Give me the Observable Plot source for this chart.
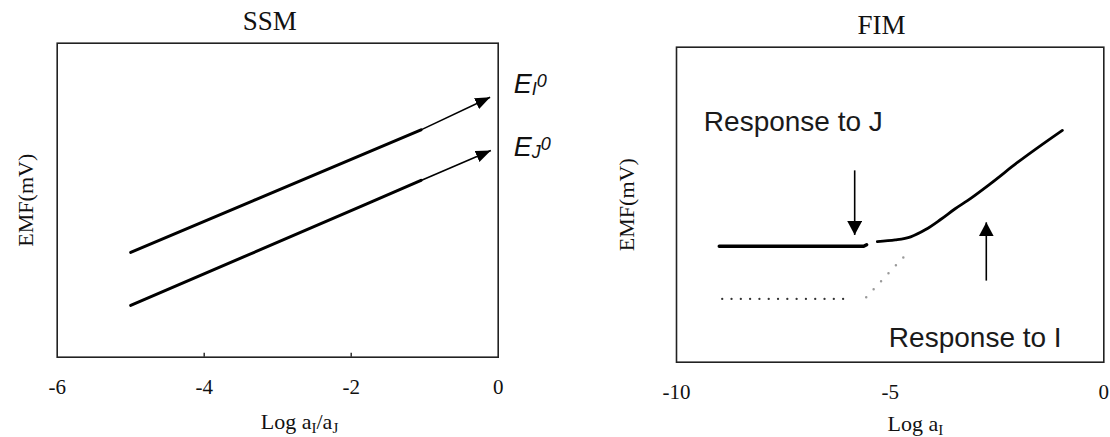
<!DOCTYPE html>
<html><head><meta charset="utf-8">
<script src="https://cdn.jsdelivr.net/npm/d3@7"></script>
<script src="https://cdn.jsdelivr.net/npm/@observablehq/plot@0.6"></script>
<style>
html,body{margin:0;padding:0;background:#fff;}
#wrap{display:flex;width:1110px;height:437px;}
#wrap svg{flex:none;display:block;}
</style></head><body><div id="wrap"></div>
<script>
// ---------- SSM panel data ----------
const ssmTicks = [-6, -4, -2, 0];
const ssmInnerTicks = [-4, -2];
const ssmUpperX = [-5, -3.33, -1.05];
const ssmUpperY = [33.4, 49.9, 72.4];
const ssmLowerX = [-5, -1.78, -1.05];
const ssmLowerY = [16.5, 48.9, 56.3];
const ssmArrowX1 = [-1.05, -1.05];
const ssmArrowY1 = [72.4, 56.3];
const ssmArrowX2 = [-0.11, -0.10];
const ssmArrowY2 = [82.8, 65.8];
const ssmLabelSub = ["I", "J"];
const ssmLabelX = [0.21, 0.21];
const ssmLabelY = [84.0, 64.2];

// ---------- FIM panel data ----------
const fimTicks = [-10, -5, 0];
const fimFlatX = [-9.0, -5.62, -5.55];
const fimFlatY = [36.8, 36.8, 37.3];
const fimCurveX = [-5.30, -4.88, -4.52, -4.17, -3.82, -3.47, -3.19, -2.65, -2.02, -0.97];
const fimCurveY = [38.3, 38.8, 39.8, 42.1, 45.3, 48.8, 51.3, 56.7, 63.4, 73.6];
const fimDotFlatX = [-8.93, -5.89];
const fimDotFlatY = [20.1, 20.1];
const fimDotDiagX = [-5.56, -4.69];
const fimDotDiagY = [20.6, 33.3];
const fimArrowX = [-5.83, -2.75];
const fimArrowY1 = [60.9, 25.9];
const fimArrowY2 = [40.4, 44.4];
const fimNotes = ["Response to J", "Response to I"];
const fimNoteX = [-9.36, -5.03];
const fimNoteY = [73.3, 4.76];

const serif = "'Liberation Serif', 'Times New Roman', serif";
const sans = "'Liberation Sans', Arial, sans-serif";

const pts = (xs, ys) => xs.map((x, i) => ({x, y: ys[i]}));

function triMarker(len, wid) {
  return (color) => {
    const m = d3.create("svg:marker")
      .attr("viewBox", `0 ${-wid / 2} ${len} ${wid}`)
      .attr("refX", len).attr("refY", 0)
      .attr("markerUnits", "userSpaceOnUse")
      .attr("markerWidth", len).attr("markerHeight", wid)
      .attr("orient", "auto");
    m.append("path").attr("d", `M0,${-wid / 2}L${len},0L0,${wid / 2}Z`).attr("fill", color).attr("stroke", "none");
    return m.node();
  };
}

function richify(svg, plain, parts) {
  d3.select(svg).selectAll("text").filter(function () { return this.textContent === plain; }).each(function () {
    const t = d3.select(this);
    t.text(null);
    parts.forEach(p => {
      const ts = t.append("tspan").text(p.t);
      if (p.size) ts.attr("font-size", p.size);
      if (p.dy) ts.attr("dy", p.dy);
    });
  });
}

// ---------- SSM ----------
const L = {w: 600, h: 437, ml: 56.7, mr: 102.3, mt: 42.7, mb: 80.3};
const ssmArrows = ssmArrowX1.map((x1, i) => ({x1, y1: ssmArrowY1[i], x2: ssmArrowX2[i], y2: ssmArrowY2[i]}));
const ssmLabels = ssmLabelSub.map((s, i) => ({t: "E" + s + "0", x: ssmLabelX[i], y: ssmLabelY[i]}));

const ssm = Plot.plot({
  width: L.w, height: L.h,
  marginLeft: L.ml, marginRight: L.mr, marginTop: L.mt, marginBottom: L.mb,
  style: {fontFamily: serif, color: "#000", background: "transparent", overflow: "visible"},
  x: {domain: [-6, 0], label: null},
  y: {domain: [0, 100], axis: null},
  marks: [
    Plot.frame({stroke: "#222", strokeWidth: 1.6}),
    Plot.ruleX(ssmInnerTicks, {stroke: "#222", strokeWidth: 1.4, insetTop: (L.h - L.mt - L.mb) - 4}),
    Plot.axisX({ticks: ssmTicks, tickSize: 0, tickPadding: 22, tickFormat: d => `${d}`, fontSize: 21, label: null, fill: "#111"}),
    Plot.line(pts(ssmUpperX, ssmUpperY), {x: "x", y: "y", stroke: "#000", strokeWidth: 3}),
    Plot.line(pts(ssmLowerX, ssmLowerY), {x: "x", y: "y", stroke: "#000", strokeWidth: 3}),
    Plot.link(ssmArrows, {x1: "x1", y1: "y1", x2: "x2", y2: "y2", stroke: "#000", strokeWidth: 1.6, markerEnd: triMarker(15, 12)}),
    Plot.text(ssmLabels, {x: "x", y: "y", text: "t", textAnchor: "start", lineAnchor: "bottom", fontFamily: sans, fontSize: 27, fontStyle: "italic", fill: "#111"}),
    Plot.text(["SSM"], {text: d => d, frameAnchor: "top", textAnchor: "middle", dx: -8, dy: -13.4, lineAnchor: "bottom", fontSize: 27, fill: "#111"}),
    Plot.text(["EMF(mV)"], {text: d => d, frameAnchor: "left", textAnchor: "middle", dx: -31.5, rotate: -90, fontSize: 22, fill: "#111"}),
    Plot.text(["Log aI/aJ"], {text: d => d, frameAnchor: "bottom", textAnchor: "start", dx: -16.9, dy: 71.3, lineAnchor: "bottom", fontSize: 22, fill: "#111"})
  ]
});

// ---------- FIM ----------
const R = {w: 510, h: 437, ml: 76, mr: 6.7, mt: 46.7, mb: 75.3};
const fimArrows = fimArrowX.map((x, i) => ({x1: x, y1: fimArrowY1[i], x2: x, y2: fimArrowY2[i]}));
const notes = fimNotes.map((t, i) => ({t, x: fimNoteX[i], y: fimNoteY[i]}));

const fim = Plot.plot({
  width: R.w, height: R.h,
  marginLeft: R.ml, marginRight: R.mr, marginTop: R.mt, marginBottom: R.mb,
  style: {fontFamily: serif, color: "#000", background: "transparent", overflow: "visible"},
  x: {domain: [-10, 0], label: null},
  y: {domain: [0, 100], axis: null},
  marks: [
    Plot.frame({stroke: "#222", strokeWidth: 1.6}),
    Plot.axisX({ticks: fimTicks, tickSize: 0, tickPadding: 22, tickFormat: d => `${d}`, fontSize: 21, label: null, fill: "#111"}),
    Plot.line(pts(fimDotFlatX, fimDotFlatY), {x: "x", y: "y", stroke: "#333", strokeWidth: 2.3, strokeDasharray: "0 9.3", strokeLinecap: "round"}),
    Plot.line(pts(fimDotDiagX, fimDotDiagY), {x: "x", y: "y", stroke: "#9a9a9a", strokeWidth: 2.5, strokeDasharray: "0 10.9", strokeLinecap: "round"}),
    Plot.line(pts(fimFlatX, fimFlatY), {x: "x", y: "y", stroke: "#000", strokeWidth: 3.4}),
    Plot.line(pts(fimCurveX, fimCurveY), {x: "x", y: "y", stroke: "#000", strokeWidth: 2.8, curve: "monotone-x"}),
    Plot.link(fimArrows, {x1: "x1", y1: "y1", x2: "x2", y2: "y2", stroke: "#000", strokeWidth: 1.6, markerEnd: triMarker(14, 15)}),
    Plot.text(notes, {x: "x", y: "y", text: "t", textAnchor: "start", lineAnchor: "bottom", fontFamily: sans, fontSize: 28, fill: "#1a1a1a"}),
    Plot.text(["FIM"], {text: d => d, frameAnchor: "top", textAnchor: "middle", dx: -8.7, dy: -13.4, lineAnchor: "bottom", fontSize: 27, fill: "#111"}),
    Plot.text(["EMF(mV)"], {text: d => d, frameAnchor: "left", textAnchor: "middle", dx: -50, rotate: -90, fontSize: 22, fill: "#111"}),
    Plot.text(["Log aI"], {text: d => d, frameAnchor: "bottom", textAnchor: "start", dx: -2.7, dy: 68.3, lineAnchor: "bottom", fontSize: 22, fill: "#111"})
  ]
});

richify(ssm, "Log aI/aJ", [{t: "Log a"}, {t: "I", size: 15, dy: 4}, {t: "/a", dy: -4}, {t: "J", size: 15, dy: 4}]);
richify(fim, "Log aI", [{t: "Log a"}, {t: "I", size: 15, dy: 4}]);
ssmLabelSub.forEach(s => richify(ssm, "E" + s + "0", [{t: "E"}, {t: s, size: 18, dy: 2}, {t: "0", size: 18, dy: -8}]));

document.getElementById("wrap").append(ssm, fim);
</script></body></html>
